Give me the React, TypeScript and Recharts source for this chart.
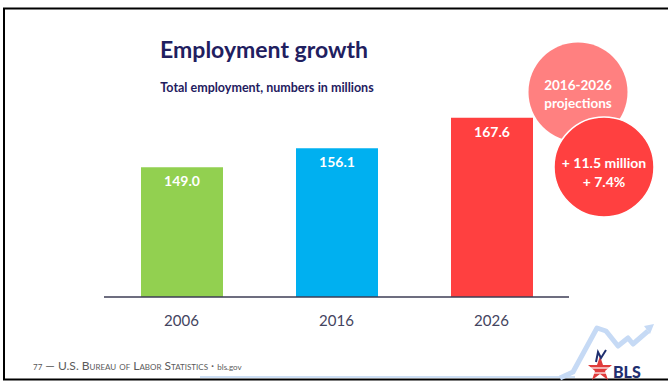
import { BarChart, Bar, XAxis, YAxis, Cell, LabelList } from "recharts";

const years = ["2006", "2016", "2026"];
const employment = [149.0, 156.1, 167.6];
const barColors = ["#92d050", "#00b0f0", "#ff4040"];
const yDomain = [100, 180];

const chartData = years.map((year, i) => ({ year, value: employment[i] }));

const FONT = "Lato, 'Open Sans', sans-serif";

function BarValue(props: any) {
  const { x, y, width, value } = props;
  return (
    <text
      x={x + width / 2}
      y={y + 19}
      textAnchor="middle"
      fill="#fff"
      fontSize={14}
      fontWeight={700}
      fontFamily={FONT}
    >
      {value.toFixed(1)}
    </text>
  );
}

function Decorations() {
  return (
    <svg
      width={668}
      height={382}
      style={{ position: "absolute", left: 0, top: 0, pointerEvents: "none" }}
    >
      {/* slide frame */}
      <rect x={4} y={8.5} width={700} height={371} fill="none" stroke="#000" strokeWidth={2} />
      <line x1={200} y1={377} x2={575} y2={377} stroke="#bcd4f2" strokeWidth={1.5} />

      {/* projection circles */}
      <circle cx={578} cy={92} r={49.5} fill="#ff8080" />
      <text x={578} y={90} textAnchor="middle" fill="#fff" fontSize={13.5} fontWeight={700} fontFamily={FONT}>
        2016-2026
      </text>
      <text x={578} y={108} textAnchor="middle" fill="#fff" fontSize={13.5} fontWeight={700} fontFamily={FONT}>
        projections
      </text>
      <circle cx={604} cy={167} r={50} fill="#ff4040" stroke="#fff" strokeWidth={1.5} />
      <text x={604} y={168} textAnchor="middle" fill="#fff" fontSize={14} fontWeight={700} fontFamily={FONT}>
        + 11.5 million
      </text>
      <text x={604} y={187} textAnchor="middle" fill="#fff" fontSize={14} fontWeight={700} fontFamily={FONT}>
        + 7.4%
      </text>

      {/* BLS logo */}
      <polyline
        points="560,378 573,372 597,328 606,331 618,346 628,338 633,344 648,331"
        fill="none"
        stroke="#c6daf5"
        strokeWidth={5}
        strokeLinejoin="round"
      />
      <polygon points="644,326 654,324 650,334" fill="#c6daf5" />
      <polygon
        points="600,356 603,365 612,365 605,371 608,380 600,374 592,380 595,371 588,365 597,365"
        fill="#e03b3b"
      />
      <line x1={590} y1={368} x2={610} y2={368} stroke="#fff" strokeWidth={1.2} />
      <line x1={593} y1={373} x2={607} y2={373} stroke="#fff" strokeWidth={1.2} />
      <path d="M596,362 L598,352 L601,358 L606,350" fill="none" stroke="#1f2f6f" strokeWidth={2} />
      <text x={613} y={378} fill="#1f2f6f" fontSize={16} fontWeight={900} fontFamily={FONT}>
        BLS
      </text>
    </svg>
  );
}

export default function App() {
  return (
    <div
      style={{
        position: "fixed",
        left: 0,
        top: 0,
        width: 668,
        height: 382,
        background: "#fff",
        overflow: "hidden",
        fontFamily: FONT,
      }}
    >
      <div
        style={{
          position: "absolute",
          left: 0,
          width: 528,
          top: 35,
          textAlign: "center",
          fontSize: 23,
          fontWeight: 700,
          color: "#1f2060",
        }}
      >
        Employment growth
      </div>
      <div
        style={{
          position: "absolute",
          left: 0,
          width: 534,
          top: 80,
          textAlign: "center",
          fontSize: 12.5,
          fontWeight: 700,
          color: "#1f2060",
        }}
      >
        Total employment, numbers in millions
      </div>

      <div style={{ position: "absolute", left: 0, top: 0 }}>
        <BarChart
          width={668}
          height={382}
          data={chartData}
          margin={{ top: 85, right: 99, left: 104, bottom: 55 }}
        >
          <XAxis
            dataKey="year"
            height={30}
            axisLine={{ stroke: "#3d3d55", strokeWidth: 1.5 }}
            tickLine={false}
            tickMargin={12}
            tick={{ fontSize: 15, fill: "#444460", fontFamily: FONT }}
          />
          <YAxis hide domain={yDomain} allowDataOverflow />
          <Bar dataKey="value" barSize={82} isAnimationActive={false}>
            {chartData.map((d, i) => (
              <Cell key={d.year} fill={barColors[i]} />
            ))}
            <LabelList dataKey="value" content={<BarValue />} />
          </Bar>
        </BarChart>
      </div>

      <div
        style={{
          position: "absolute",
          left: 33,
          top: 358,
          fontSize: 12,
          color: "#5a5a5a",
          fontVariant: "small-caps",
          whiteSpace: "nowrap",
        }}
      >
        <span style={{ fontSize: 8 }}>77</span> — U.S. Bureau of Labor Statistics ·{" "}
        <span style={{ fontSize: 8, fontVariant: "normal" }}>bls.gov</span>
      </div>

      <Decorations />
    </div>
  );
}
